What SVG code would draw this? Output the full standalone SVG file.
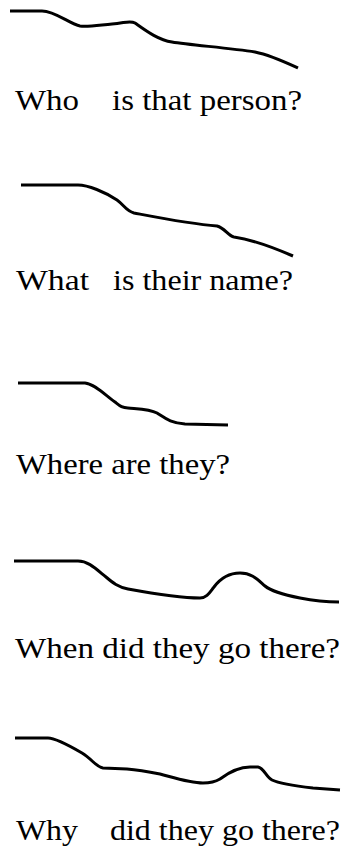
<svg xmlns="http://www.w3.org/2000/svg" width="348" height="850" viewBox="0 0 348 850">
<style>
.c{fill:none;stroke:#000;stroke-width:3;stroke-linecap:butt;stroke-linejoin:round}
.t{font-family:"Liberation Serif","DejaVu Serif",serif;font-size:30px;fill:#000}
</style>
<rect width="348" height="850" fill="#fff"/>
<g id="who">
<path class="c" d="M10,11 L42,11 C55,11 70,24 80,26 C88,27 100,25 112,24 C125,23 130,20 135,23 C145,30 158,40 172,42 C190,45 230,48 255,52 C270,55 285,62 298,68"/>
<text class="t" x="15" y="110" textLength="64" lengthAdjust="spacingAndGlyphs">Who</text>
<text class="t" x="112" y="110" textLength="190" lengthAdjust="spacingAndGlyphs">is that person?</text>
</g>
<g id="what">
<path class="c" d="M21,185 L78,185 C88,185 105,192 117,200 C124,205 126,211 134,213 C150,216 190,224 217,226 C225,228 228,236 234,237 C248,239 270,246 293,256"/>
<text class="t" x="16" y="290" textLength="73" lengthAdjust="spacingAndGlyphs">What</text>
<text class="t" x="113" y="290" textLength="180" lengthAdjust="spacingAndGlyphs">is their name?</text>
</g>
<g id="where">
<path class="c" d="M18,383 L85,383 C95,384 105,395 115,402 C120,406 122,408 128,408 C140,409 150,409 157,413 C165,418 170,423 185,424 L228,425"/>
<text class="t" x="16" y="474" textLength="214" lengthAdjust="spacingAndGlyphs">Where are they?</text>
</g>
<g id="when">
<path class="c" d="M14,561 L78,561 C88,561 95,568 106,577 C113,583 118,587 128,589 C150,593 180,598 200,598 C207,598 210,592 214,587 C220,579 228,573 240,573 C252,573 258,580 265,586 C272,592 285,595 300,598 C315,601 325,602 339,602"/>
<text class="t" x="15" y="658" textLength="325" lengthAdjust="spacingAndGlyphs">When did they go there?</text>
</g>
<g id="why">
<path class="c" d="M15,738 L48,738 C56,738 70,746 82,753 C92,759 96,767 103,768 L127,769 C140,770 150,772 160,774 C175,778 190,783 203,783 C210,783 215,782 220,779 C228,773 238,767 250,767 L258,767 C264,768 266,777 272,780 C280,784 295,786 313,788 L340,790"/>
<text class="t" x="16" y="840" textLength="62" lengthAdjust="spacingAndGlyphs">Why</text>
<text class="t" x="110" y="840" textLength="230" lengthAdjust="spacingAndGlyphs">did they go there?</text>
</g>
<g id="connectors"/>
</svg>
